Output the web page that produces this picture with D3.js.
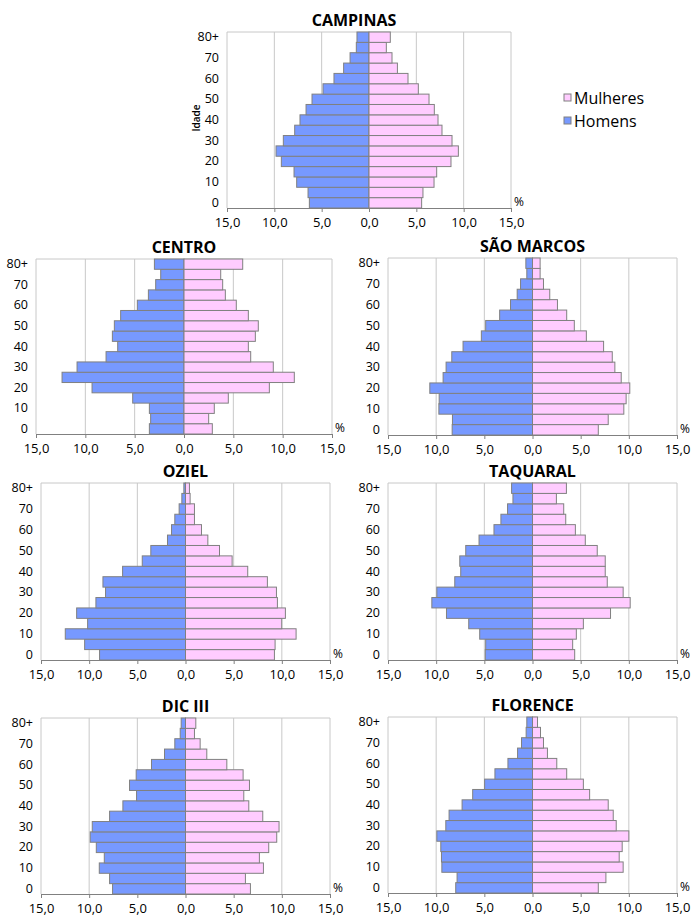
<!DOCTYPE html>
<html><head><meta charset="utf-8">
<script src="https://cdn.jsdelivr.net/npm/d3@7"></script>
<style>body{margin:0;background:#fff}svg{display:block}text{font-family:"Open Sans","DejaVu Sans",sans-serif;fill:#000}</style>
</head><body><svg id="c" width="691" height="917"></svg>
<script>
// ---- data ----
const ageGroups = ["0","5","10","15","20","25","30","35","40","45","50","55","60","65","70","75","80+"];
const ageTickLabels = ["0","10","20","30","40","50","60","70","80+"];
const xTicks = [-15,-10,-5,0,5,10,15];
const seriesNames = ["Mulheres","Homens"];
const regions = ["CAMPINAS","CENTRO","SÃO MARCOS","OZIEL","TAQUARAL","DIC III","FLORENCE"];

const campinasHomens   = [6.3,6.44,7.64,7.92,9.26,9.82,9.05,7.85,7.29,6.65,6.02,4.86,3.7,2.68,2.0,1.34,1.27];
const campinasMulheres = [5.56,5.7,6.87,7.15,8.66,9.44,8.77,7.71,7.29,6.9,6.34,5.21,4.12,3.0,2.43,1.83,2.25];
const centroHomens     = [3.51,3.38,3.51,5.2,9.32,12.36,10.84,7.9,6.72,7.26,7.06,6.42,4.73,3.61,2.87,2.36,3.0];
const centroMulheres   = [2.87,2.5,3.07,4.49,8.65,11.18,9.05,6.76,6.52,7.23,7.53,6.52,5.3,4.19,3.92,3.72,5.95];
const saoMarcosHomens  = [8.34,8.31,9.72,9.69,10.66,9.28,8.97,8.38,7.21,5.31,4.86,3.41,2.28,1.59,1.24,0.59,0.69];
const saoMarcosMulheres= [6.83,7.86,9.48,9.72,10.1,9.21,8.55,8.28,7.38,5.59,4.34,3.55,2.59,1.79,1.14,0.79,0.79];
const ozielHomens      = [8.92,10.47,12.48,10.16,11.3,9.3,8.3,8.57,6.53,4.49,3.6,1.87,1.45,1.11,0.66,0.38,0.17];
const ozielMulheres    = [9.23,9.3,11.48,9.99,10.37,9.54,9.44,8.5,6.46,4.84,3.53,2.32,1.66,0.93,0.93,0.48,0.41];
const taquaralHomens   = [4.9,4.86,5.48,6.62,8.93,10.45,9.93,8.07,7.45,7.55,6.93,5.55,4.0,3.28,2.59,2.03,2.17];
const taquaralMulheres = [4.38,4.17,4.55,5.28,8.1,10.14,9.41,7.76,7.55,7.55,6.72,5.48,4.45,3.45,3.24,2.48,3.52];
const dicHomens        = [7.57,7.88,8.95,8.43,9.26,9.89,9.68,7.88,6.5,5.08,5.81,5.12,3.53,2.18,1.11,0.55,0.45];
const dicMulheres      = [6.74,6.22,8.09,7.67,8.64,9.47,9.71,8.02,6.57,6.05,6.64,5.98,4.29,2.21,1.52,0.93,1.07];
const florenceHomens   = [7.97,7.83,9.41,9.45,9.52,9.93,9.0,8.66,7.31,6.21,4.97,3.9,2.55,1.55,1.14,0.66,0.59];
const florenceMulheres = [6.83,7.62,9.41,9.0,9.31,10.0,8.69,8.38,7.86,5.93,5.28,3.55,2.52,1.55,1.14,0.83,0.52];

const homensByRegion   = [campinasHomens,centroHomens,saoMarcosHomens,ozielHomens,taquaralHomens,dicHomens,florenceHomens];
const mulheresByRegion = [campinasMulheres,centroMulheres,saoMarcosMulheres,ozielMulheres,taquaralMulheres,dicMulheres,florenceMulheres];

// ---- layout ----
const panels = [
  {l:227,r:511,t:32,b:208,tx:354},
  {l:36,r:332,t:259,b:434},
  {l:388,r:677,t:258,b:435},
  {l:41,r:330,t:483,b:660},
  {l:388,r:677,t:483,b:660},
  {l:41,r:330,t:718,b:894},
  {l:388,r:677,t:717,b:893}
];
const colMen = "#7799FF", colWomen = "#FFCCFF", colEdge = "#808080", colGrid = "#C8C8C8";
const fmt = v => d3.format(".1f")(Math.abs(v)).replace(".", ",");

const svg = d3.select("#c");

panels.forEach((p, i) => {
  const g = svg.append("g");
  const x = d3.scaleLinear().domain([-15,15]).range([p.l,p.r]);
  const y = d3.scaleBand().domain(ageGroups).range([p.b,p.t]).padding(0);

  // gridlines + top border
  g.selectAll("line.grid").data(xTicks).join("line")
    .attr("x1", d => x(d)).attr("x2", d => x(d))
    .attr("y1", p.t).attr("y2", p.b)
    .attr("stroke", colGrid).attr("stroke-width", 1);
  g.append("line").attr("x1", p.l).attr("x2", p.r).attr("y1", p.t).attr("y2", p.t)
    .attr("stroke", colGrid);

  const rows = ageGroups.map((a, k) => ({a, m: homensByRegion[i][k], f: mulheresByRegion[i][k]}));
  g.selectAll("rect.m").data(rows).join("rect")
    .attr("x", d => x(-d.m)).attr("width", d => x(0) - x(-d.m))
    .attr("y", d => y(d.a)).attr("height", y.bandwidth())
    .attr("fill", colMen).attr("stroke", colEdge).attr("stroke-width", 1);
  g.selectAll("rect.f").data(rows).join("rect")
    .attr("x", x(0)).attr("width", d => x(d.f) - x(0))
    .attr("y", d => y(d.a)).attr("height", y.bandwidth())
    .attr("fill", colWomen).attr("stroke", colEdge).attr("stroke-width", 1);

  // x axis
  const xa = g.append("g").attr("transform", `translate(0,${p.b})`)
    .call(d3.axisBottom(x).tickValues(xTicks).tickFormat(fmt).tickSize(4).tickPadding(6));
  xa.select(".domain").attr("stroke", colEdge);
  xa.selectAll(".tick line").attr("stroke", colEdge);
  xa.selectAll("text").attr("font-size", 13).attr("fill", "#000").style("font-family", "'Open Sans','DejaVu Sans',sans-serif");

  // y labels
  const ya = g.append("g").attr("transform", `translate(${p.l},0)`)
    .call(d3.axisLeft(y).tickValues(ageTickLabels).tickSize(0).tickPadding(8));
  ya.select(".domain").remove();
  ya.selectAll("text").attr("font-size", 12.5).attr("fill", "#000").style("font-family", "'Open Sans','DejaVu Sans',sans-serif");

  // %
  g.append("text").attr("x", p.r + 3).attr("y", p.b - 2).attr("font-size", 12).text("%");

  // title
  g.append("text").attr("x", p.tx !== undefined ? p.tx : (p.l + p.r) / 2).attr("y", p.t - 6)
    .attr("text-anchor", "middle").attr("font-size", 16).attr("font-weight", "bold").text(regions[i]);

  if (i === 0) {
    g.append("text").attr("transform", `translate(${p.l - 27},${(p.t + p.b) / 2 - 2}) rotate(-90)`)
      .attr("text-anchor", "middle").attr("font-size", 10).attr("font-weight", "600").text("Idade");
  }
});

// legend
const legend = svg.append("g").attr("transform", "translate(564,0)");
const legendColors = [colWomen, colMen];
const legendY = [98, 121];
seriesNames.forEach((n, k) => {
  legend.append("rect").attr("x", 0).attr("y", legendY[k] - 4).attr("width", 7).attr("height", 7)
    .attr("fill", legendColors[k]).attr("stroke", colEdge);
  legend.append("text").attr("x", 10).attr("y", legendY[k] + 5.5).attr("font-size", 16).text(n);
});
</script></body></html>
